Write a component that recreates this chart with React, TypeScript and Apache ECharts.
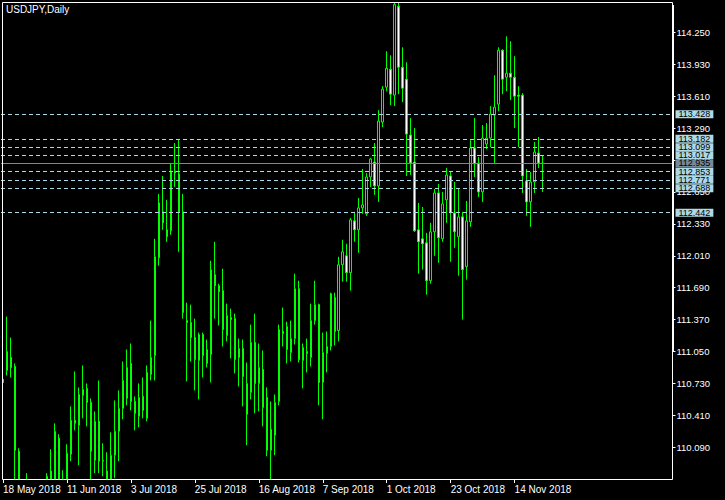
import React, { useEffect, useRef } from 'react';
import * as echarts from 'echarts';

// ---- data ----
const symbolTitle = 'USDJPY,Daily';
const firstDate = '2018-05-18';
const totalSlots = 168; // visible bar slots, including empty right-hand shift
const labelEvery = 16;

// [open, high, low, close]
const candles: [number, number, number, number][] = [
  [110.77, 111.0, 110.63, 110.74],
  [110.86, 111.4, 110.81, 111.05],
  [110.99, 111.19, 110.79, 110.89],
  [110.9, 110.93, 109.53, 110.06],
  [110.05, 110.08, 109.23, 109.26],
  [109.26, 109.72, 109.21, 109.42],
  [109.4, 109.83, 109.32, 109.45],
  [109.45, 109.52, 108.11, 108.76],
  [108.76, 109.13, 108.4, 108.9],
  [108.9, 109.13, 108.71, 108.81],
  [108.81, 109.72, 108.7, 109.53],
  [109.53, 109.83, 109.46, 109.8],
  [109.85, 110.07, 109.56, 109.74],
  [109.74, 110.33, 109.66, 110.25],
  [110.18, 110.22, 109.64, 109.7],
  [109.7, 109.86, 109.2, 109.55],
  [109.62, 110.12, 109.55, 110.03],
  [110.02, 110.5, 109.95, 110.36],
  [110.36, 110.85, 110.26, 110.33],
  [110.31, 110.69, 109.91, 110.62],
  [110.61, 110.91, 110.38, 110.67],
  [110.68, 110.73, 110.3, 110.54],
  [110.54, 110.58, 109.55, 110.05],
  [109.96, 110.45, 109.83, 110.35],
  [110.35, 110.76, 109.83, 109.95],
  [109.95, 110.13, 109.8, 109.96],
  [109.85, 110.04, 109.37, 109.7],
  [109.7, 110.24, 109.55, 110.01],
  [110.01, 110.56, 109.78, 110.25],
  [110.25, 110.66, 109.95, 110.48],
  [110.48, 110.95, 110.37, 110.76],
  [110.58, 111.07, 110.51, 110.89],
  [110.93, 111.13, 110.46, 110.55],
  [110.55, 110.6, 110.26, 110.43],
  [110.4, 110.73, 110.29, 110.59],
  [110.6, 110.79, 110.38, 110.46],
  [110.38, 110.91, 110.35, 110.84],
  [110.82, 111.36, 110.76, 110.99],
  [111.01, 112.18, 110.76, 112.0],
  [111.99, 112.63, 111.91, 112.54],
  [112.45, 112.81, 112.27, 112.34],
  [112.2, 112.57, 112.15, 112.27],
  [112.26, 112.94, 112.22, 112.86],
  [112.86, 113.14, 112.7, 112.84],
  [112.83, 113.17, 112.05, 112.45],
  [112.45, 112.63, 111.38, 111.44],
  [111.36, 111.54, 110.75, 111.34],
  [111.34, 111.52, 110.95, 111.19],
  [111.19, 111.38, 110.66, 110.97],
  [110.96, 111.24, 110.57, 111.22],
  [111.22, 111.24, 110.79, 111.01],
  [110.93, 111.17, 110.89, 111.07],
  [111.02, 111.96, 110.74, 111.87],
  [111.82, 112.15, 111.38, 111.71],
  [111.71, 111.73, 111.31, 111.65],
  [111.66, 111.88, 111.1, 111.27],
  [111.21, 111.53, 111.15, 111.41],
  [111.39, 111.48, 110.98, 111.37],
  [111.38, 111.43, 110.83, 110.97],
  [110.99, 111.18, 110.7, 111.08],
  [111.08, 111.17, 110.5, 110.8],
  [110.42, 110.94, 110.11, 110.73],
  [110.64, 111.32, 110.57, 111.14],
  [111.14, 111.43, 110.43, 110.73],
  [110.73, 111.13, 110.45, 110.89],
  [110.87, 111.06, 110.3, 110.49],
  [110.59, 110.69, 110.0, 110.06],
  [110.06, 110.55, 109.77, 110.27],
  [110.21, 110.62, 110.01, 110.54],
  [110.55, 111.32, 110.51, 111.27],
  [111.25, 111.49, 111.1, 111.23],
  [111.3, 111.35, 110.93, 111.07],
  [111.04, 111.36, 110.95, 111.18],
  [111.18, 111.83, 111.12, 111.68],
  [111.68, 111.76, 110.94, 110.97],
  [110.96, 111.13, 110.68, 111.09],
  [111.05, 111.18, 110.84, 111.03],
  [110.99, 111.53, 110.9, 111.36],
  [111.36, 111.76, 111.32, 111.52],
  [111.52, 111.53, 110.51, 110.74],
  [110.74, 111.24, 110.37, 111.04],
  [111.03, 111.25, 110.84, 111.1],
  [111.1, 111.64, 111.06, 111.63],
  [111.59, 111.64, 111.11, 111.25],
  [111.26, 112.0, 111.15, 111.92],
  [111.92, 112.17, 111.75, 112.05],
  [112.01, 112.13, 111.75, 111.84],
  [111.84, 112.39, 111.66, 112.37],
  [112.36, 112.45, 112.15, 112.27],
  [112.27, 112.59, 112.04, 112.49],
  [112.49, 112.88, 112.43, 112.52],
  [112.43, 112.84, 112.41, 112.8],
  [112.8, 112.99, 112.7, 112.98],
  [112.95, 113.14, 112.62, 112.71],
  [112.71, 113.47, 112.55, 113.36],
  [113.35, 113.71, 113.3, 113.68],
  [113.7, 114.06, 113.66, 113.89],
  [113.88, 114.02, 113.52, 113.63],
  [113.62, 114.55, 113.51, 114.53],
  [114.51, 114.55, 113.63, 113.9],
  [113.9, 114.1, 113.55, 113.69],
  [113.78, 113.95, 112.81, 113.23],
  [113.22, 113.39, 112.82, 112.94],
  [112.95, 113.29, 112.25, 112.26],
  [112.27, 112.54, 111.83, 112.15],
  [112.18, 112.5, 111.87, 112.13],
  [112.14, 112.24, 111.62, 111.76],
  [111.76, 112.34, 111.73, 112.25],
  [112.25, 112.68, 112.01, 112.64],
  [112.64, 112.73, 111.94, 112.19],
  [112.18, 112.65, 112.15, 112.53],
  [112.57, 112.89, 112.34, 112.82],
  [112.81, 112.85, 111.95, 112.44],
  [112.44, 112.75, 112.09, 112.25],
  [112.2, 112.69, 111.81, 112.4],
  [112.4, 112.45, 111.37, 111.87],
  [111.9, 112.56, 111.77, 112.36],
  [112.35, 113.17, 112.3, 113.09],
  [113.09, 113.39, 112.8, 112.93],
  [112.94, 113.0, 112.6, 112.65],
  [112.65, 113.32, 112.55, 113.19],
  [113.13, 113.34, 113.08, 113.19],
  [113.19, 113.51, 113.1, 113.43],
  [113.42, 113.82, 112.94, 113.5],
  [113.53, 114.1, 113.46, 114.07],
  [114.07, 114.08, 113.63, 113.78],
  [113.8, 114.21, 113.66, 113.84],
  [113.84, 114.16, 113.57, 113.8],
  [113.8, 114.01, 113.29, 113.61],
  [113.62, 113.71, 113.1, 113.61],
  [113.62, 113.64, 112.64, 112.81],
  [112.76, 112.88, 112.41, 112.55],
  [112.55, 112.85, 112.3, 112.75],
  [112.75, 113.15, 112.64, 113.05],
  [113.04, 113.2, 112.89, 112.94],
  [112.94, 113.02, 112.65, 112.935],
];

const priceTicks = [110.09, 110.41, 110.73, 111.05, 111.37, 111.69, 112.01, 112.33, 112.65, 112.97, 113.29, 113.61, 113.93, 114.25];
const levelPrices = [113.428, 113.182, 113.099, 113.017, 112.853, 112.771, 112.688, 112.442];
const bidPrice = 112.935;
const priceMin = 109.772;
const priceMax = 114.554;

const MONTHS = ['Jan', 'Feb', 'Mar', 'Apr', 'May', 'Jun', 'Jul', 'Aug', 'Sep', 'Oct', 'Nov', 'Dec'];

function weekdayLabels(start: string, count: number): string[] {
  const out: string[] = [];
  const d = new Date(start + 'T00:00:00Z');
  while (out.length < count) {
    const wd = d.getUTCDay();
    if (wd !== 0 && wd !== 6) {
      out.push(`${d.getUTCDate()} ${MONTHS[d.getUTCMonth()]} ${d.getUTCFullYear()}`);
    }
    d.setUTCDate(d.getUTCDate() + 1);
  }
  return out;
}

const FONT = '"Liberation Sans", Arial, sans-serif';

export default function App() {
  const ref = useRef<HTMLDivElement>(null);

  useEffect(() => {
    if (!ref.current) return;
    const chart = echarts.init(ref.current, undefined, { renderer: 'svg' });
    const dates = weekdayLabels(firstDate, candles.length);
    const cats = Array.from({ length: totalSlots }, (_, i) => (i < dates.length ? dates[i] : ''));
    const showAt = (i: number) => i % labelEvery === 0 && i < candles.length;

    const option: any = {
      animation: false,
      backgroundColor: '#000000',
      title: {
        text: symbolTitle,
        left: 6,
        top: 4,
        padding: 0,
        textStyle: { color: '#ffffff', fontSize: 10, fontWeight: 'normal', fontFamily: FONT },
      },
      grid: { left: 0.5, right: 52.5, top: 2, bottom: 21, containLabel: false },
      xAxis: {
        type: 'category',
        z: 200,
        data: cats,
        boundaryGap: true,
        axisLine: { show: false },
        axisTick: {
          show: true,
          alignWithLabel: true,
          interval: (i: number) => showAt(i),
          length: 4,
          lineStyle: { color: '#ffffff', width: 1 },
        },
        axisLabel: {
          interval: (i: number) => showAt(i),
          color: '#ffffff',
          fontSize: 10,
          fontFamily: FONT,
          align: 'left',
          margin: 5,
        },
        splitLine: { show: false },
      },
      yAxis: {
        type: 'value',
        position: 'right',
        min: priceMin,
        max: priceMax,
        axisLine: { show: false },
        axisTick: {
          show: true,
          length: 3,
          customValues: priceTicks,
          lineStyle: { color: '#ffffff', width: 1 },
        },
        axisLabel: {
          customValues: priceTicks,
          color: '#ffffff',
          fontSize: 9.5,
          fontFamily: FONT,
          margin: 4,
          formatter: (v: number) => Number(v).toFixed(3),
        },
        splitLine: { show: false },
      },
      series: [
        {
          type: 'candlestick',
          data: candles.map(([o, h, l, c]) => [o, c, l, h]),
          barWidth: 2,
          clip: true,
          itemStyle: {
            color: '#000000',
            color0: '#ffffff',
            borderColor: '#00ff00',
            borderColor0: '#00ff00',
            borderWidth: 1,
          },
          markLine: {
            silent: true,
            symbol: ['none', 'none'],
            precision: 3,
            animation: false,
            lineStyle: { color: '#add8e6', type: [4, 3], width: 1 },
            label: {
              show: true,
              position: 'end',
              distance: 3,
              formatter: (p: any) => Number(p.value).toFixed(3),
              color: '#000000',
              backgroundColor: '#add8e6',
              fontSize: 9,
              fontFamily: FONT,
              lineHeight: 8,
              padding: [0, 3, 0, 3],
            },
            data: [
              {
                yAxis: bidPrice,
                lineStyle: { color: '#778899', type: 'solid', width: 1 },
                label: { backgroundColor: '#778899' },
              },
              ...levelPrices.map((v) => ({ yAxis: v })),
            ],
          },
        },
      ],
      graphic: [
        {
          type: 'rect',
          z: 50,
          silent: true,
          shape: { x: 0, y: 480, width: 673, height: 20 },
          style: { fill: '#000000' },
        },
        {
          type: 'rect',
          z: 100,
          silent: true,
          shape: { x: 2.5, y: 2.5, width: 670, height: 477 },
          style: { fill: 'none', stroke: '#ffffff', lineWidth: 1 },
        },
        {
          type: 'rect',
          z: 101,
          silent: true,
          shape: { x: 672, y: 5, width: 2, height: 346 },
          style: { fill: '#ffffff' },
        },
      ],
    };

    chart.setOption(option);
    return () => {
      chart.dispose();
    };
  }, []);

  return (
    <div
      ref={ref}
      style={{ position: 'fixed', left: 0, top: 0, width: 725, height: 500, background: '#000' }}
    />
  );
}
